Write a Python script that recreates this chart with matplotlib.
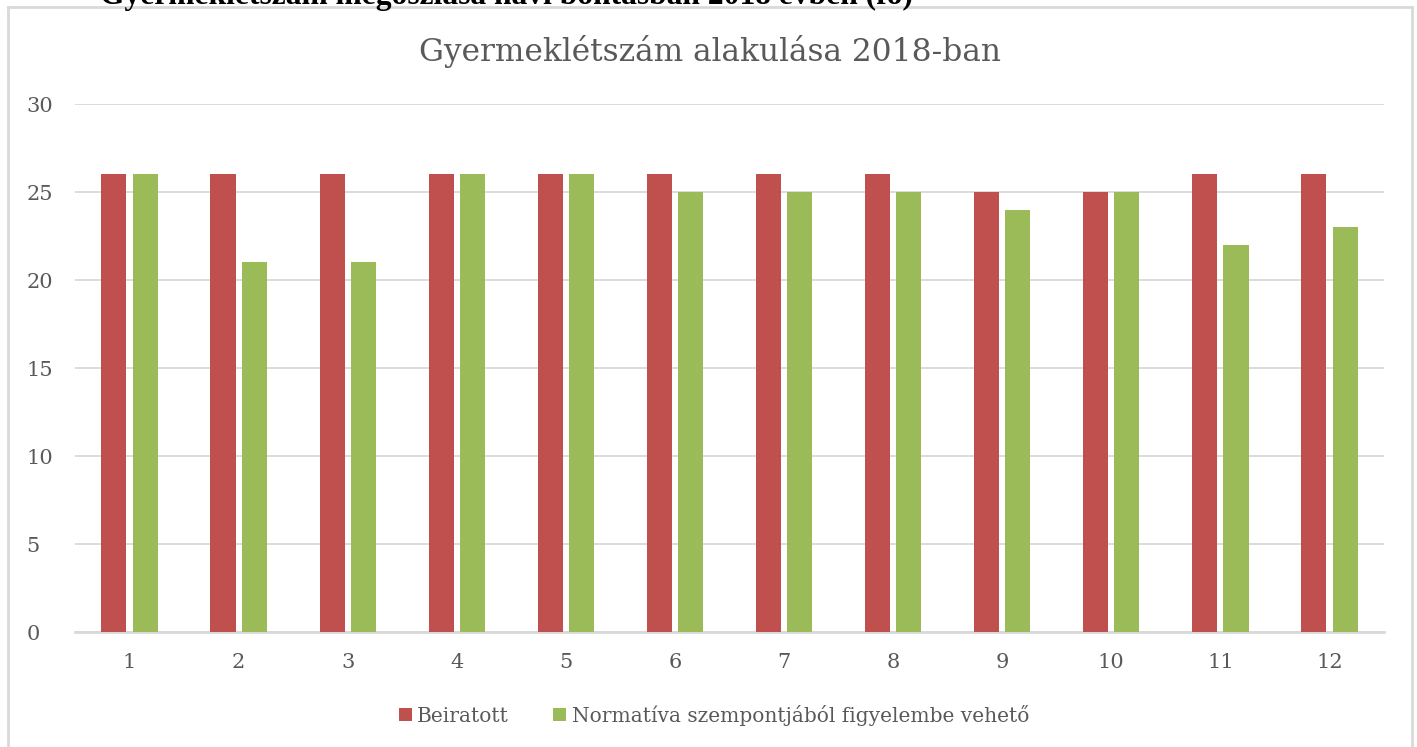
import matplotlib.pyplot as plt
from matplotlib.lines import Line2D
import numpy as np

# --- DATA ---
months = ["1", "2", "3", "4", "5", "6", "7", "8", "9", "10", "11", "12"]
beiratott = [26, 26, 26, 26, 26, 26, 26, 26, 25, 25, 26, 26]
normativa = [26, 21, 21, 26, 26, 25, 25, 25, 24, 25, 22, 23]
y_ticks = [0, 5, 10, 15, 20, 25, 30]

RED = '#C0504D'
GREEN = '#9BBB59'
GRID = '#D9D9D9'
TEXT = '#595959'

plt.rcParams['font.family'] = ['DejaVu Serif']

W, H = 1417, 747
fig = plt.figure(figsize=(W / 100, H / 100), dpi=100)

# clipped caption above the chart box (cut off in the original too)
fig.text(100 / W, 1 - 4 / H, "Gyermeklétszám megoszlása havi bontásban 2018 évben (fő)",
         fontsize=22.7, fontweight='bold', color='black', ha='left', va='baseline',
         family=['Liberation Serif', 'DejaVu Serif'])

# chart border (left, top, right)
bx0, by0, bx1 = 8 / W, 1 - 7 / H, 1412 / W
for xs, ys in [([bx0, bx0], [0, by0]), ([bx0, bx1], [by0, by0]), ([bx1, bx1], [by0, 0])]:
    fig.add_artist(Line2D(xs, ys, color=GRID, lw=2, transform=fig.transFigure))

ax = fig.add_axes([75 / W, 115 / H, (1384 - 75) / W, (632 - 104) / H])

x = np.arange(1, len(months) + 1)
bw = 0.23
off = 0.143
ax.bar(x - off, beiratott, bw, color=RED, label='Beiratott', zorder=3)
ax.bar(x + off, normativa, bw, color=GREEN,
       label='Normatíva szempontjából figyelembe vehető', zorder=3)

ax.set_xlim(0.5, 12.5)
ax.set_ylim(0, 30)
ax.set_yticks(y_ticks)
ax.set_xticks(x)
ax.set_xticklabels(months)
ax.yaxis.grid(True, color=GRID, lw=1.3, zorder=0)
for s in ['top', 'right', 'left']:
    ax.spines[s].set_visible(False)
ax.spines['bottom'].set_color(GRID)
ax.spines['bottom'].set_linewidth(2)
ax.tick_params(axis='both', length=0, labelsize=15, labelcolor=TEXT)
ax.tick_params(axis='y', pad=35)
ax.tick_params(axis='x', pad=15)
for lbl in ax.get_yticklabels():
    lbl.set_horizontalalignment('left')

fig.text(710 / W, 1 - 52 / H, "Gyermeklétszám alakulása 2018-ban", fontsize=22.5,
         color=TEXT, ha='center', va='center')

fig.legend(loc='center', bbox_to_anchor=(714 / W, 1 - 715 / H), ncol=2, frameon=False,
           fontsize=14.5, labelcolor=TEXT, handlelength=0.65, handleheight=0.65,
           handletextpad=0.25, columnspacing=2.2)

fig.savefig('out.png', dpi=100)
